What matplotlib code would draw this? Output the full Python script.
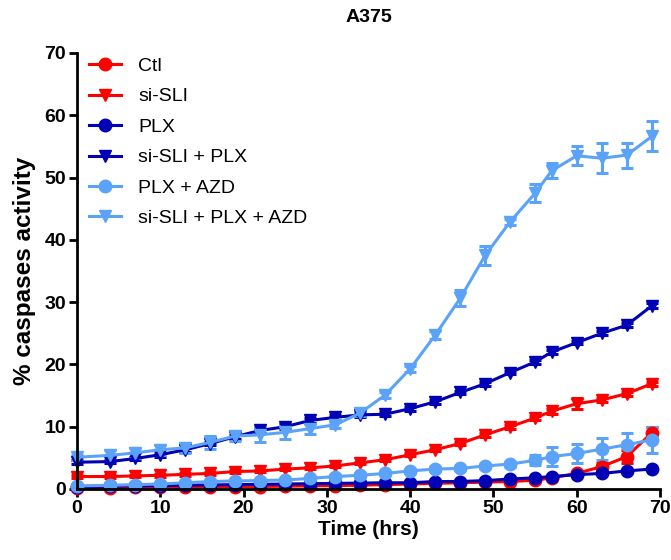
import matplotlib
matplotlib.use("Agg")
from matplotlib import pyplot as plt
from matplotlib.lines import Line2D

plt.rcParams['font.family'] = ['Liberation Sans', 'DejaVu Sans']

# time points (hrs)
t = [0, 4, 7, 10, 13, 16, 19, 22, 25, 28, 31, 34, 37, 40, 43, 46, 49, 52, 55, 57, 60, 63, 66, 69]

ctl = [0.2, 0.2, 0.25, 0.3, 0.3, 0.35, 0.4, 0.4, 0.45, 0.5, 0.55, 0.6, 0.7, 0.8, 0.9, 1.0, 1.1, 1.2, 1.4, 1.8, 2.5, 3.6, 5.2, 9.0]
ctl_err = [0.1, 0.1, 0.1, 0.1, 0.1, 0.1, 0.1, 0.1, 0.1, 0.1, 0.1, 0.1, 0.1, 0.1, 0.1, 0.1, 0.1, 0.1, 0.2, 0.2, 0.3, 0.5, 1.0, 1.0]

si_sli = [2.0, 2.0, 2.1, 2.2, 2.35, 2.5, 2.8, 2.9, 3.2, 3.4, 3.7, 4.2, 4.7, 5.5, 6.3, 7.3, 8.7, 10.0, 11.4, 12.5, 13.7, 14.3, 15.3, 16.9]
si_sli_err = [0.2, 0.2, 0.2, 0.2, 0.2, 0.2, 0.2, 0.2, 0.2, 0.2, 0.2, 0.2, 0.2, 0.2, 0.2, 0.3, 0.3, 0.3, 0.3, 0.4, 0.9, 0.3, 0.3, 0.3]

plx = [0.4, 0.45, 0.5, 0.55, 0.6, 0.65, 0.7, 0.75, 0.8, 0.85, 0.9, 0.95, 1.0, 1.0, 1.2, 1.2, 1.35, 1.6, 1.8, 2.0, 2.3, 2.5, 2.9, 3.2]
plx_err = [0.1] * 24

si_plx = [4.3, 4.4, 4.9, 5.5, 6.3, 7.3, 8.4, 9.4, 10.0, 11.0, 11.5, 11.9, 12.0, 12.9, 14.0, 15.5, 16.9, 18.7, 20.4, 22.0, 23.5, 25.0, 26.3, 29.4]
si_plx_err = [0.3, 0.3, 0.3, 0.3, 0.3, 0.3, 0.3, 0.4, 0.4, 0.4, 0.4, 0.4, 0.3, 0.3, 0.3, 0.3, 0.3, 0.3, 0.3, 0.3, 0.3, 0.3, 0.3, 0.4]

plx_azd = [0.5, 0.6, 0.7, 0.8, 1.0, 1.2, 1.3, 1.35, 1.45, 1.7, 2.0, 2.2, 2.5, 2.9, 3.2, 3.3, 3.7, 4.0, 4.6, 5.2, 5.7, 6.4, 7.1, 7.9]
plx_azd_err = [0.2, 0.2, 0.2, 0.2, 0.2, 0.2, 0.2, 0.2, 0.2, 0.3, 0.3, 0.3, 0.3, 0.3, 0.3, 0.3, 0.3, 0.4, 0.8, 1.5, 1.6, 1.8, 1.9, 2.1]

si_plx_azd = [5.1, 5.4, 5.8, 6.3, 6.6, 7.5, 8.5, 8.7, 9.1, 9.7, 10.3, 12.2, 15.1, 19.3, 24.7, 30.6, 37.5, 42.9, 47.5, 51.1, 53.5, 53.1, 53.6, 56.6]
si_plx_azd_err = [0.4, 0.8, 0.8, 0.8, 0.8, 1.0, 0.8, 1.2, 1.0, 0.8, 0.5, 0.5, 0.5, 0.5, 0.6, 1.3, 1.5, 0.5, 1.4, 1.2, 1.5, 2.4, 2.0, 2.4]

labels = ["Ctl", "si-SLI", "PLX", "si-SLI + PLX", "PLX + AZD", "si-SLI + PLX + AZD"]
series = [ctl, si_sli, plx, si_plx, plx_azd, si_plx_azd]
errors = [ctl_err, si_sli_err, plx_err, si_plx_err, plx_azd_err, si_plx_azd_err]
colors = ["#FF0000", "#FF0000", "#0000B4", "#0000B4", "#5BA3F8", "#5BA3F8"]
markers = ["o", "v", "o", "v", "o", "v"]

fig = plt.figure(figsize=(6.71, 5.6), dpi=100)
ax = fig.add_axes([0.1148, 0.1268, 0.8689, 0.7786])

handles = []
for y, e, c, m, lab in zip(series, errors, colors, markers, labels):
    ax.errorbar(t, y, yerr=e, color=c, marker=m, markersize=9, linewidth=2.2,
                elinewidth=2.2, capsize=4.3, capthick=2.2, clip_on=False)
    handles.append(Line2D([], [], color=c, marker=m, markersize=9, linewidth=2.2, label=lab))

ax.set_xlim(0, 70)
ax.set_ylim(0, 70)
ax.set_xticks(range(0, 71, 10))
ax.set_yticks(range(0, 71, 10))
for s in ["top", "right"]:
    ax.spines[s].set_visible(False)
for s in ["left", "bottom"]:
    ax.spines[s].set_linewidth(2)
ax.tick_params(width=2, length=6, labelsize=14, pad=2)
for lb in ax.get_xticklabels() + ax.get_yticklabels():
    lb.set_fontweight("bold")

ax.set_xlabel("Time (hrs)", fontsize=15, fontweight="bold", labelpad=2)
ax.set_ylabel("% caspases activity", fontsize=17.5, fontweight="bold", labelpad=6)
ax.set_title("A375", fontsize=14, fontweight="bold", pad=22)

ax.legend(handles=handles, loc="upper left", bbox_to_anchor=(-0.01, 1.03), frameon=False,
          fontsize=14, handlelength=1.65, handletextpad=0.9, labelspacing=0.66)

plt.savefig("out.png", dpi=100)
